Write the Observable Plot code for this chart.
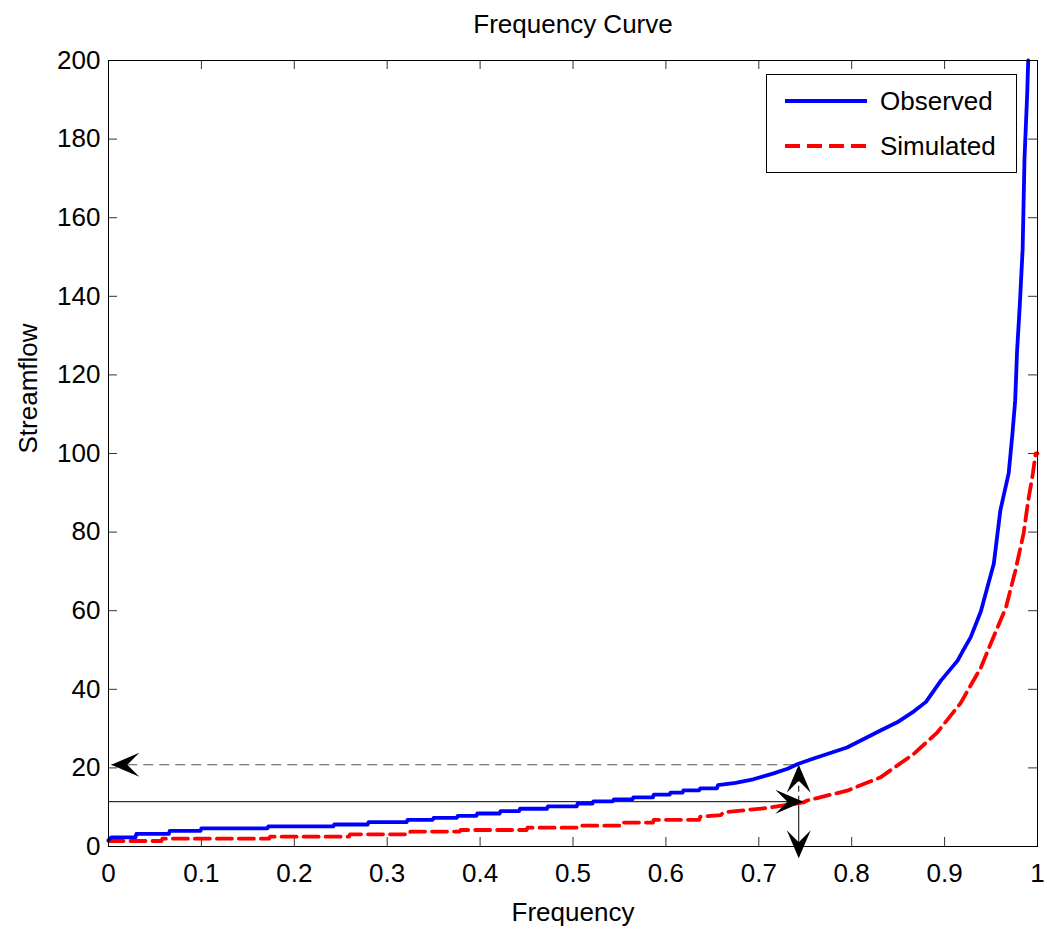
<!DOCTYPE html>
<html>
<head>
<meta charset="utf-8">
<script src="https://cdn.jsdelivr.net/npm/d3@7"></script>
<script src="https://cdn.jsdelivr.net/npm/@observablehq/plot@0.6"></script>
<style>
  html, body { margin: 0; padding: 0; background: white; }
  #wrap { position: relative; width: 1047px; height: 935px; font-family: "Liberation Sans", Arial, sans-serif; }
  #legend { position: absolute; left: 766px; top: 74px; width: 249px; height: 97px; border: 1px solid black; background: white; }
</style>
</head>
<body>
<div id="wrap">
  <div id="chart"></div>
  <div id="legend">
    <svg width="249" height="97" style="font-family: 'Liberation Sans', Arial, sans-serif; font-size: 26px;">
      <line x1="18" x2="100" y1="26" y2="26" stroke="#0000ff" stroke-width="3.8"></line>
      <text x="113" y="26" dy="0.35em" fill="black">Observed</text>
      <line x1="18" x2="100" y1="71" y2="71" stroke="#ff0000" stroke-width="3.8" stroke-dasharray="15,7"></line>
      <text x="113" y="71" dy="0.35em" fill="black">Simulated</text>
    </svg>
  </div>
</div>
<script>
// ---- data ----
const obsFreq = [0, 0.003, 0.029, 0.030, 0.065, 0.066, 0.099, 0.100, 0.171, 0.172, 0.242, 0.243, 0.279, 0.280, 0.321, 0.322, 0.349, 0.350, 0.375, 0.376, 0.396, 0.397, 0.421, 0.422, 0.442, 0.443, 0.472, 0.473, 0.504, 0.505, 0.521, 0.522, 0.543, 0.544, 0.564, 0.565, 0.586, 0.587, 0.604, 0.605, 0.618, 0.619, 0.636, 0.637, 0.655, 0.656, 0.675, 0.694, 0.716, 0.731, 0.742, 0.759, 0.795, 0.831, 0.849, 0.867, 0.880, 0.896, 0.914, 0.920, 0.928, 0.939, 0.946, 0.953, 0.960, 0.969, 0.973, 0.976, 0.978, 0.981, 0.984, 0.986, 0.989, 0.990];
const obsFlow = [1.6, 2.3, 2.3, 3.2, 3.2, 4.0, 4.0, 4.6, 4.6, 5.1, 5.1, 5.6, 5.6, 6.2, 6.2, 6.8, 6.8, 7.3, 7.3, 7.8, 7.8, 8.4, 8.4, 9.0, 9.0, 9.6, 9.6, 10.2, 10.2, 10.9, 10.9, 11.5, 11.5, 12.0, 12.0, 12.5, 12.5, 13.2, 13.2, 13.7, 13.7, 14.3, 14.3, 14.8, 14.8, 15.6, 16.2, 17.1, 18.6, 19.8, 21.0, 22.4, 25.2, 29.5, 31.6, 34.4, 36.8, 42.2, 47.3, 49.9, 53.2, 59.8, 65.9, 72.0, 85.5, 95.0, 105.0, 113.5, 126.0, 138.0, 152.0, 175.0, 192.0, 200.0];

const simFreq = [0, 0.057, 0.058, 0.173, 0.174, 0.259, 0.260, 0.324, 0.325, 0.378, 0.379, 0.450, 0.451, 0.504, 0.505, 0.550, 0.551, 0.586, 0.587, 0.636, 0.637, 0.659, 0.662, 0.709, 0.748, 0.752, 0.795, 0.831, 0.867, 0.892, 0.917, 0.939, 0.953, 0.966, 0.976, 0.985, 0.990, 0.995, 0.998, 1.0];
const simFlow = [1.4, 1.4, 2.0, 2.0, 2.5, 2.5, 3.1, 3.1, 3.8, 3.8, 4.2, 4.2, 4.8, 4.8, 5.3, 5.3, 6.1, 6.1, 6.8, 6.8, 7.6, 8.0, 8.7, 9.8, 11.2, 11.7, 14.2, 17.6, 23.6, 29.0, 36.4, 45.5, 53.5, 60.8, 70.0, 79.6, 88.0, 94.9, 100.0, 100.0];

const xTicks = [0, 0.1, 0.2, 0.3, 0.4, 0.5, 0.6, 0.7, 0.8, 0.9, 1];
const xTickLabels = ["0", "0.1", "0.2", "0.3", "0.4", "0.5", "0.6", "0.7", "0.8", "0.9", "1"];
const yTicks = [0, 20, 40, 60, 80, 100, 120, 140, 160, 180, 200];

// annotation values
const refFreq = 0.743;      // frequency where the arrows meet
const refObs = 20.8;        // observed flow at that frequency
const refSim = 11.4;        // simulated flow at that frequency
const arrowLeftFreq = 0.003;
const arrowRightFreq = 0.748;
const arrowDownFlow = -3;

const title = "Frequency Curve";
const xLabel = "Frequency";
const yLabel = "Streamflow";

// ---- build ----
const obs = obsFreq.map((f, i) => ({f, q: obsFlow[i]}));
const sim = simFreq.map((f, i) => ({f, q: simFlow[i]}));

function arrowSymbol(angle) {
  const c = Math.cos(angle), s = Math.sin(angle);
  const pts = [[0, 0], [-28, -12], [-16, 0], [-28, 12]].map(([x, y]) => [x * c - y * s, x * s + y * c]);
  return {
    draw(context) {
      context.moveTo(pts[0][0], pts[0][1]);
      for (let i = 1; i < pts.length; i++) context.lineTo(pts[i][0], pts[i][1]);
      context.closePath();
    }
  };
}
const arrowRight = arrowSymbol(0);
const arrowLeft = arrowSymbol(Math.PI);
const arrowUp = arrowSymbol(-Math.PI / 2);
const arrowDown = arrowSymbol(Math.PI / 2);

const W = 1047, H = 935, mL = 108, mR = 10, mT = 60, mB = 89;
const fw = W - mL - mR, fh = H - mT - mB;
const tickLen = 9;

const chart = Plot.plot({
  width: W, height: H,
  marginLeft: mL, marginRight: mR, marginTop: mT, marginBottom: mB,
  style: {fontFamily: "'Liberation Sans', Arial, sans-serif", fontSize: "26px", color: "black", background: "white", overflow: "visible"},
  x: {domain: [0, 1]},
  y: {domain: [0, 200]},
  marks: [
    // inward ticks on all four sides
    Plot.ruleX(xTicks, {x: d => d, insetTop: fh - tickLen, stroke: "#333"}),
    Plot.ruleX(xTicks, {x: d => d, insetBottom: fh - tickLen, stroke: "#333"}),
    Plot.ruleY(yTicks, {y: d => d, insetRight: fw - tickLen, stroke: "#333"}),
    Plot.ruleY(yTicks, {y: d => d, insetLeft: fw - tickLen, stroke: "#333"}),
    Plot.axisX(xTicks, {tickSize: 0, tickPadding: 17, tickFormat: (d, i) => xTickLabels[i], label: null}),
    Plot.axisY(yTicks, {tickSize: 0, tickPadding: 8, label: null}),
    // annotation lines
    Plot.link([0], {x1: arrowLeftFreq, y1: refObs, x2: refFreq, y2: refObs, stroke: "#555", strokeWidth: 1, strokeDasharray: "10,6"}),
    Plot.link([0], {x1: 0, y1: refSim, x2: arrowRightFreq - 0.01, y2: refSim, stroke: "black", strokeWidth: 1}),
    Plot.link([0], {x1: refFreq, y1: refSim, x2: refFreq, y2: refObs - 2, stroke: "black", strokeWidth: 1, strokeDasharray: "6,4"}),
    Plot.link([0], {x1: refFreq, y1: refSim, x2: refFreq, y2: arrowDownFlow + 2, stroke: "black", strokeWidth: 1}),
    // curves
    Plot.line(sim, {x: "f", y: "q", stroke: "#ff0000", strokeWidth: 3.8, strokeDasharray: "15,7"}),
    Plot.line(obs, {x: "f", y: "q", stroke: "#0000ff", strokeWidth: 3.8}),
    // arrowheads
    Plot.dot([0], {x: arrowLeftFreq, y: refObs, symbol: arrowLeft, fill: "black", stroke: "none"}),
    Plot.dot([0], {x: arrowRightFreq, y: refSim, symbol: arrowRight, fill: "black", stroke: "none"}),
    Plot.dot([0], {x: refFreq, y: refObs, symbol: arrowUp, fill: "black", stroke: "none"}),
    Plot.dot([0], {x: refFreq, y: arrowDownFlow, symbol: arrowDown, fill: "black", stroke: "none"}),
    Plot.frame({stroke: "black", strokeWidth: 1}),
    // texts
    Plot.text([title], {text: d => d, frameAnchor: "top", dy: -36, lineAnchor: "middle", fontSize: 26}),
    Plot.text([xLabel], {text: d => d, frameAnchor: "bottom", dy: 66, lineAnchor: "middle", fontSize: 26}),
    Plot.text([yLabel], {text: d => d, frameAnchor: "left", dx: -80, rotate: -90, lineAnchor: "middle", fontSize: 26})
  ]
});
document.getElementById("chart").appendChild(chart);
</script>
</body>
</html>
